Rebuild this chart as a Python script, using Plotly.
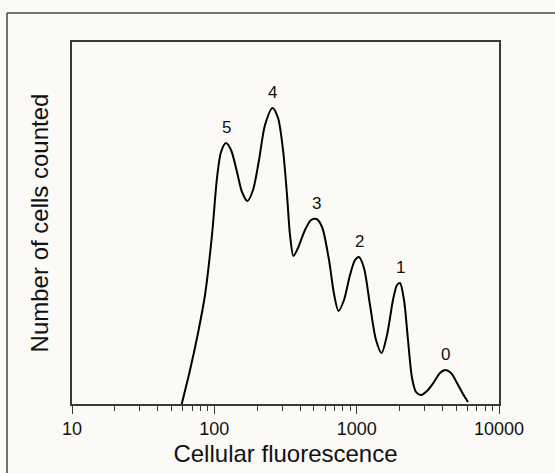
import math
import plotly.graph_objects as go

# Curve (cellular fluorescence, arbitrary count units)
fluorescence = [59, 67.5, 76.8, 86.0, 96.3, 104.4, 111.4, 120.8, 131, 144.3, 156.5, 170.8,
                187, 206, 227, 256.3, 280.2, 303.8, 324.1, 340.1, 359.8, 387, 433.5, 477.8,
                522.3, 570.9, 639.3, 693.2, 745.5, 814.7, 898, 973.4, 1038.5, 1125.6,
                1240.7, 1367.7, 1494.9, 1634, 1800, 1920.7, 2016, 2150.7, 2294.5, 2448.4,
                2612, 2831, 3120, 3494, 3851, 4209, 4603, 5070, 5586, 6057]
cells = [0, 34, 71, 109, 169, 226, 252, 261, 254, 232, 212, 203,
         214, 244, 279, 296, 286, 254, 209, 169, 148, 156, 174, 184,
         185, 177, 144, 110, 93, 104, 129, 144, 147, 136,
         99, 64, 51, 69, 104, 119, 121, 104, 64, 26,
         12, 9, 13, 22, 31, 34, 31, 21, 10, 2]

peak_labels = ["5", "4", "3", "2", "1", "0"]
peak_x = [120.8, 256.3, 522.3, 1038.5, 2016, 4209]
peak_y = [261, 296, 185, 147, 121, 34]

tick_vals = [10, 100, 1000, 10000]
tick_text = ["10", "100", "1000", "10000"]
minor_vals = [20, 30, 40, 50, 60, 70, 80, 90,
              200, 300, 400, 500, 600, 700, 800, 900,
              2000, 3000, 4000, 5000, 6000, 7000, 8000, 9000]

FONT = "Liberation Sans, Arial, Helvetica, sans-serif"
AX = "#3a3a3a"

fig = go.Figure()
fig.add_trace(go.Scatter(
    x=fluorescence, y=cells, mode="lines",
    line=dict(color="black", width=2, shape="spline", smoothing=0.8),
    showlegend=False, hoverinfo="skip"))

for lab, px, py in zip(peak_labels, peak_x, peak_y):
    fig.add_annotation(x=math.log10(px), y=py, text=lab, showarrow=False,
                       xanchor="center", yanchor="bottom", yshift=4,
                       font=dict(family=FONT, size=17, color="#111"))

# outer frame (left and top edges visible in the picture)
fig.add_shape(type="line", xref="paper", yref="paper", x0=-65/427, x1=56/427 + 1.2,
              y0=1 + 29/362, y1=1 + 29/362, line=dict(color="#444", width=1.5))
fig.add_shape(type="line", xref="paper", yref="paper", x0=-65/427, x1=-65/427,
              y0=-0.3, y1=1 + 29/362, line=dict(color="#444", width=1.5))

fig.update_xaxes(type="log", range=[1, 4], tickvals=tick_vals, ticktext=tick_text,
                 ticks="outside", ticklen=8, tickwidth=1.2, tickcolor=AX,
                 showline=True, linecolor=AX, linewidth=1.5, mirror=True,
                 showgrid=False, zeroline=False, ticklabelstandoff=0,
                 tickfont=dict(family=FONT, size=18, color="#111"),
                 minor=dict(tickvals=minor_vals, ticks="outside", ticklen=5,
                            tickwidth=1.2, tickcolor=AX, showgrid=False),
                 title=dict(text="Cellular fluorescence", standoff=7,
                            font=dict(family=FONT, size=24, color="#111")))
fig.update_yaxes(range=[0, 362], showticklabels=False, ticks="",
                 showline=True, linecolor=AX, linewidth=1.5, mirror=True,
                 showgrid=False, zeroline=False,
                 title=dict(text="Number of cells counted", standoff=15,
                            font=dict(family=FONT, size=24, color="#111")))

fig.update_layout(width=555, height=473, margin=dict(l=72, r=56, t=42, b=69, autoexpand=False),
                  paper_bgcolor="#fbfaf6", plot_bgcolor="#fbfaf6",
                  font=dict(family=FONT))

fig.write_html("out.html")
